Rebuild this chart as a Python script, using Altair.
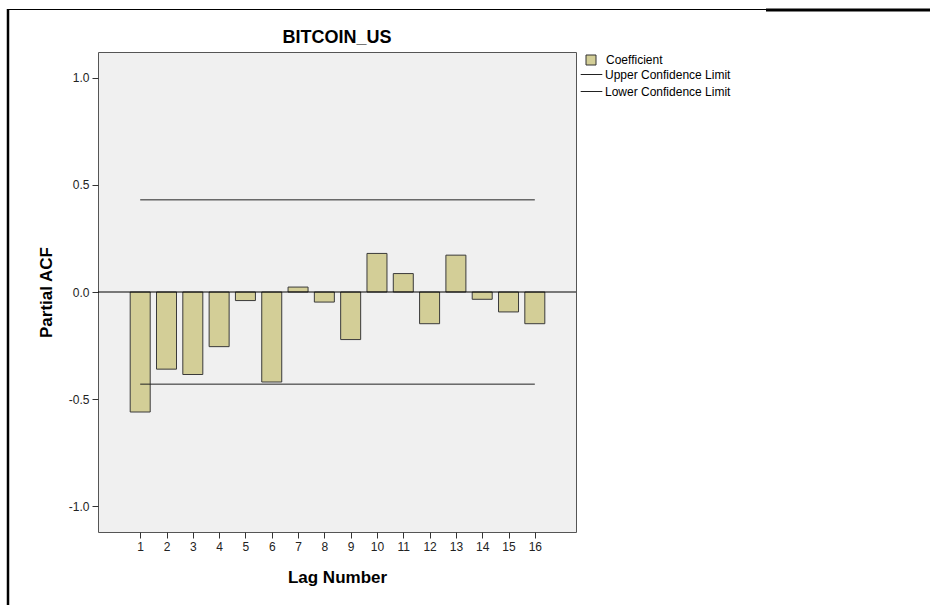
import altair as alt
import pandas as pd

# ---- data ----
lags = list(range(1, 17))
pacf = [-0.56, -0.36, -0.385, -0.255, -0.04, -0.42, 0.023, -0.047,
        -0.222, 0.18, 0.086, -0.148, 0.172, -0.034, -0.093, -0.148]
upper_limit = 0.43
lower_limit = -0.43
series_names = ["Coefficient", "Upper Confidence Limit", "Lower Confidence Limit"]
y_ticks = [-1.0, -0.5, 0.0, 0.5, 1.0]
chart_title = "BITCOIN_US"

bars_df = pd.DataFrame({"lag": lags, "pacf": pacf, "series": series_names[0]})
limits_df = pd.DataFrame({
    "lag": [lags[0], lags[-1], lags[0], lags[-1]],
    "value": [upper_limit, upper_limit, lower_limit, lower_limit],
    "series": [series_names[1]] * 2 + [series_names[2]] * 2,
})
zero_df = pd.DataFrame({"z": [0.0]})
title_df = pd.DataFrame({"t": [chart_title]})

FONT = "Liberation Sans"
W, H = 478, 480
PAD_L, PAD_T = 98, 52

x_scale = alt.Scale(domain=[-0.414, 17.375], nice=False, zero=False)
y_scale = alt.Scale(domain=[-1.12, 1.12], nice=False, zero=False)

x_axis = alt.Axis(values=lags, format="d", title="Lag Number", grid=False, domain=False,
                  tickSize=6, tickColor="#333", labelFontSize=12, labelColor="#222",
                  labelFont=FONT, labelPadding=3, labelOverlap=False, labelSeparation=0,
                  titleFont=FONT, titleFontSize=17,
                  titleFontWeight="bold", titleColor="#000", titlePadding=17)
y_axis = alt.Axis(values=y_ticks, title="Partial ACF", grid=False, domain=False,
                  labelExpr="datum.value < 0 ? '-' + format(-datum.value, '.1f') : format(datum.value, '.1f')",
                  tickSize=6, tickColor="#333", labelFontSize=12, labelColor="#222",
                  labelFont=FONT, labelPadding=3, labelOverlap=False,
                  titleFont=FONT, titleFontSize=17,
                  titleFontWeight="bold", titleColor="#000", titlePadding=13)

bars = alt.Chart(bars_df).mark_bar(size=20, stroke="#3a3a3a", strokeWidth=1).encode(
    x=alt.X("lag:Q", scale=x_scale, axis=x_axis),
    y=alt.Y("pacf:Q", scale=y_scale, axis=y_axis),
    y2=alt.datum(0),
    color=alt.Color("series:N",
                    scale=alt.Scale(domain=[series_names[0]], range=["#D3CE97"]),
                    legend=alt.Legend(title=None, orient="none", legendX=487, legendY=2,
                                      symbolType="square", symbolSize=100,
                                      symbolStrokeColor="#333", symbolStrokeWidth=1,
                                      labelFont=FONT, labelFontSize=12, labelColor="#000",
                                      labelOffset=9)),
)

zero_rule = alt.Chart(zero_df).mark_rule(color="#000", strokeWidth=1).encode(
    y=alt.Y("z:Q", scale=y_scale, axis=y_axis)
)

limits = alt.Chart(limits_df).mark_line(strokeWidth=1).encode(
    x=alt.X("lag:Q", scale=x_scale, axis=x_axis),
    y=alt.Y("value:Q", scale=y_scale, axis=y_axis),
    color=alt.Color("series:N",
                    scale=alt.Scale(domain=series_names[1:], range=["#222", "#222"]),
                    legend=alt.Legend(title=None, orient="none", legendX=487, legendY=16,
                                      symbolType="M-1.8,0H1.8", symbolSize=144,
                                      symbolStrokeColor="#222", symbolStrokeWidth=1,
                                      rowPadding=4,
                                      labelFont=FONT, labelFontSize=12, labelColor="#000",
                                      labelOffset=7)),
)

title_text = alt.Chart(title_df).mark_text(
    font=FONT, fontSize=18, fontWeight="bold", color="#000", align="center", baseline="alphabetic"
).encode(text="t:N", x=alt.value(W / 2), y=alt.value(-9))

# page frame lines (decoration around the figure cell)
frame_left = alt.Chart(zero_df).mark_rule(color="#000", strokeWidth=2.5).encode(
    x=alt.value(8 - PAD_L), y=alt.value(9 - PAD_T), y2=alt.value(605 - PAD_T))
frame_top = alt.Chart(zero_df).mark_rule(color="#000", strokeWidth=1).encode(
    x=alt.value(7 - PAD_L), x2=alt.value(766 - PAD_L), y=alt.value(9.5 - PAD_T))
frame_top2 = alt.Chart(zero_df).mark_rule(color="#000", strokeWidth=3).encode(
    x=alt.value(766 - PAD_L), x2=alt.value(930 - PAD_L), y=alt.value(10 - PAD_T))

chart = alt.layer(bars, zero_rule, limits, title_text, frame_left, frame_top, frame_top2).resolve_scale(
    color="independent"
).properties(
    width=W, height=H,
    autosize=alt.AutoSizeParams(type="none"),
    padding={"left": PAD_L, "top": PAD_T, "right": 930 - PAD_L - W, "bottom": 605 - PAD_T - H},
    background="white",
).configure_view(
    fill="#F0F0F0", stroke="#555", strokeWidth=1
).configure_axis(labelOverlap=False)

chart.save("out.html", embed_options={"renderer": "svg", "actions": False})
